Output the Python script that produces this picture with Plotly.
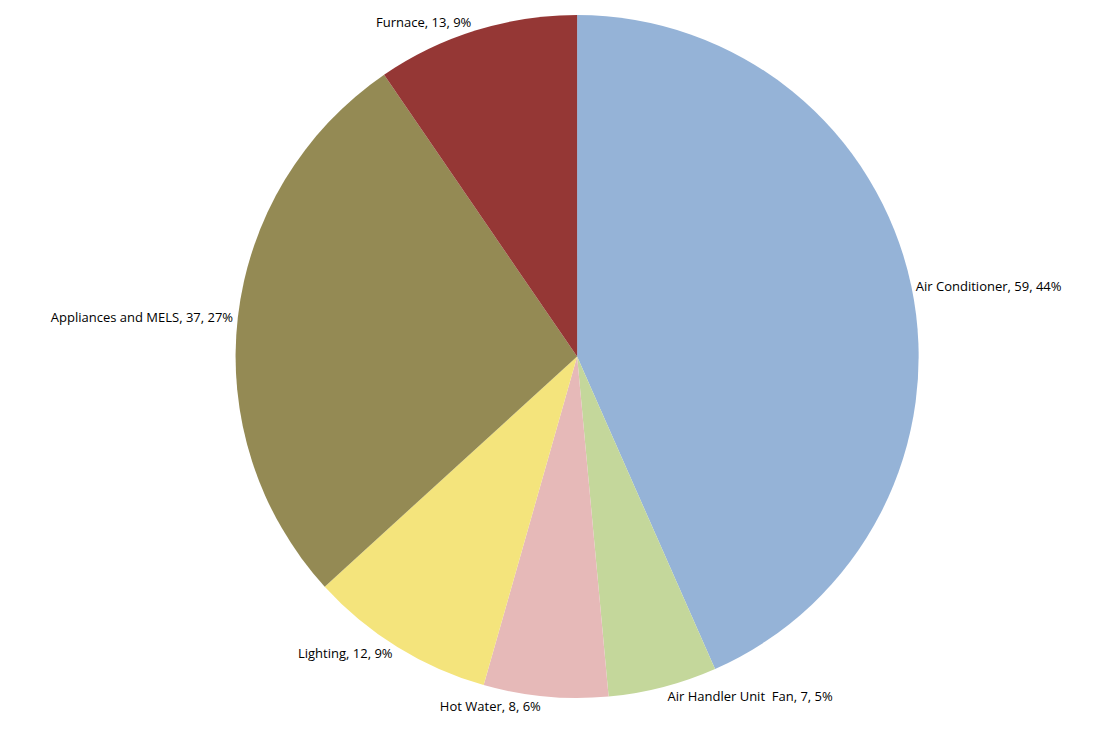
import plotly.graph_objects as go

labels = ["Air Conditioner", "Air Handler Unit  Fan", "Hot Water", "Lighting",
          "Appliances and MELS", "Furnace"]
values = [59, 7, 8, 12, 37, 13]
pct_text = ["44%", "5%", "6%", "9%", "27%", "9%"]
colors = ["#95B3D7", "#C4D79B", "#E6B9B8", "#F4E47C", "#948A54", "#953735"]

text = [f"{l}, {v}, {p}" for l, v, p in zip(labels, values, pct_text)]

fig = go.Figure(go.Pie(
    labels=labels,
    values=values,
    text=text,
    textinfo="text",
    textposition="outside",
    sort=False,
    direction="clockwise",
    rotation=0,
    marker=dict(colors=colors),
    outsidetextfont=dict(family="Open Sans", size=13, color="black"),
    domain=dict(x=[0.202, 0.829], y=[0.063, 1.0]),
    showlegend=False,
))

fig.update_layout(
    width=1104,
    height=736,
    margin=dict(l=0, r=0, t=0, b=0),
    paper_bgcolor="white",
)

fig.write_html("out.html")
